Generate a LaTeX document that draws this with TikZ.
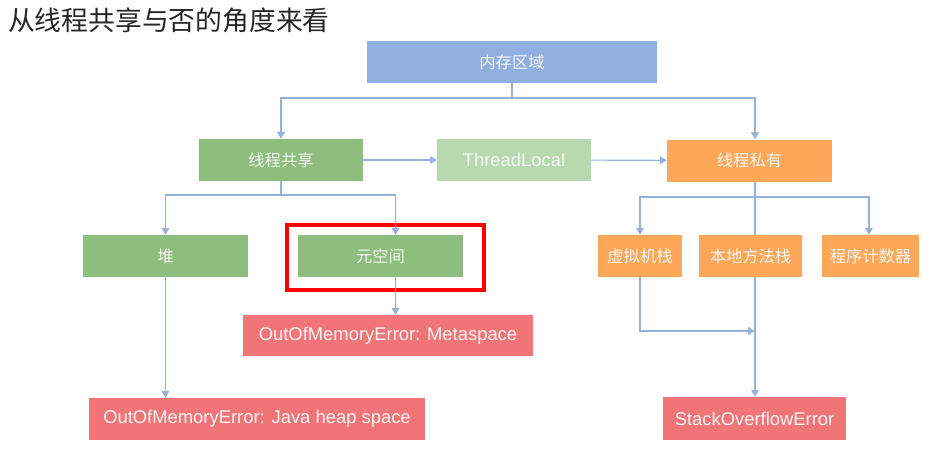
\documentclass[tikz,border=0pt]{standalone}
\usepackage{fontspec}
\setmainfont{Liberation Sans}
\newfontfamily\cjk{Noto Sans CJK SC}
\usepackage{xcolor}
\usetikzlibrary{arrows.meta}
\definecolor{memblue}{HTML}{8EAFE0}
\definecolor{sharegreen}{HTML}{8DBE7D}
\definecolor{tlgreen}{HTML}{B8D8B0}
\definecolor{privorange}{HTML}{FFA758}
\definecolor{errred}{HTML}{F07478}
\definecolor{linkblue}{HTML}{98B2DA}
\definecolor{boxtext}{HTML}{F6F6F2}
\tikzstyle{block}=[
inner sep=0pt,
minimum height=42pt,
text=boxtext,
text centered
]
\tikzstyle{zh}=[font=\cjk\fontsize{16.3}{18}\selectfont]
\tikzstyle{en}=[font=\fontsize{18.4}{20}\selectfont]
\tikzstyle{link}=[
draw=linkblue,
line width=1.1pt
]
\tikzstyle{arrow}=[
link,
-{Triangle[width=8pt,length=7pt]}
]

\begin{document}
\begin{tikzpicture}[x=1pt,y=-1pt]
\useasboundingbox (0,0) rectangle (932,458);

\node (title) [anchor=west, text=black!85, font=\cjk\fontsize{26.8}{30}\selectfont, inner sep=0pt] at (8,20) {从线程共享与否的角度来看};

% top level
\node (mem) [block, zh, fill=memblue, minimum width=290pt] at (512,62) {内存区域};

% second row
\node (shared) [block, zh, fill=sharegreen, minimum width=164pt] at (281,160) {线程共享};
\node (tl) [block, en, fill=tlgreen, minimum width=154pt] at (514,160) {ThreadLocal};
\node (private) [block, zh, fill=privorange, minimum width=165pt] at (749.5,160.5) {线程私有};

% third row
\node (heap) [block, zh, fill=sharegreen, minimum width=165pt] at (165.5,256) {堆};
\node (meta) [block, zh, fill=sharegreen, minimum width=165pt] at (380.5,256) {元空间};
\node (jvm) [block, zh, fill=privorange, minimum width=84pt] at (640,256) {虚拟机栈};
\node (native) [block, zh, fill=privorange, minimum width=103pt] at (750.5,256) {本地方法栈};
\node (pc) [block, zh, fill=privorange, minimum width=97pt] at (870.5,256) {程序计数器};

% errors
\node (oommeta) [block, en, fill=errred, minimum width=290pt, minimum height=41pt] at (388,335.5) {OutOfMemoryError: Metaspace};
\node (oomheap) [block, en, fill=errred, minimum width=336pt] at (257,419) {OutOfMemoryError: Java heap space};
\node (soe) [block, en, fill=errred, minimum width=183pt, minimum height=43pt] at (754.5,418.5) {StackOverflowError};

% highlight
\node (mark) [draw=red, line width=3.5pt, inner sep=0pt, minimum width=197pt, minimum height=65pt] at (385.5,257.5) {};

\coordinate (toprail) at (512,98);
\coordinate (leftrail) at (281,195);
\coordinate (midrail) at (755,197);
\coordinate (merge) at (755,331);

\draw [link] (mem.south) -- (toprail);
\draw [arrow] (toprail) -| (shared.north);
\draw [arrow] (toprail) -| ([xshift=5.5pt]private.north);
\draw [arrow] (shared) -- (tl);
\draw [arrow] (tl) -- (private);

\draw [link] (shared.south) -- (leftrail);
\draw [arrow] (leftrail) -| (heap.north);
\draw [arrow] (leftrail) -| ([xshift=15pt]meta.north);
\draw [arrow] ([xshift=15pt]meta.south) -- ([xshift=15pt]meta.south |- oommeta.north);
\draw [arrow] (heap.south) -- (heap.south |- oomheap.north);

\draw [link] ([xshift=5.5pt]private.south) -- (native.north -| midrail);
\draw [arrow] (midrail) -| (jvm.north);
\draw [arrow] (midrail) -| ([xshift=-1.5pt]pc.north);
\draw [arrow] (jvm.south) |- (merge);
\draw [arrow] (native.south -| merge) -- (soe.north -| merge);

\end{tikzpicture}
\end{document}
